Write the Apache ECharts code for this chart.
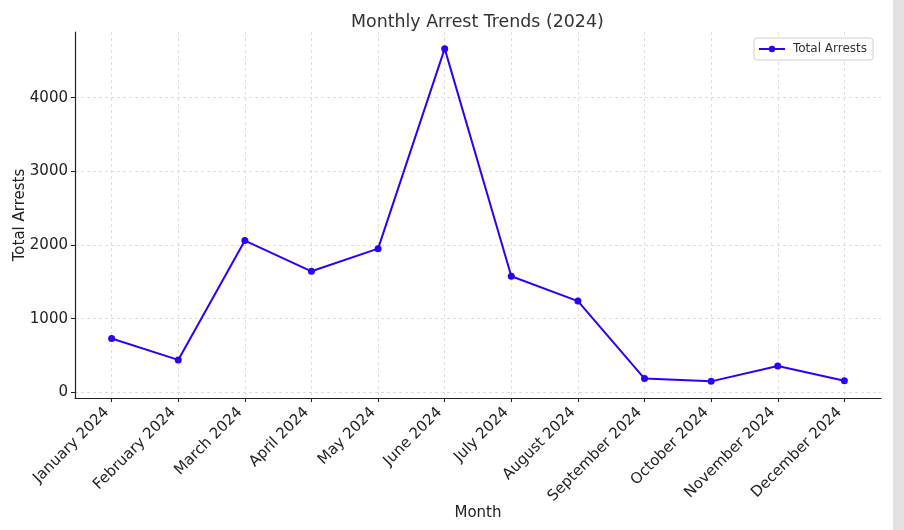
<!DOCTYPE html>
<html>
<head>
<meta charset="utf-8">
<script src="https://cdn.jsdelivr.net/npm/echarts@6/dist/echarts.min.js"></script>
<style>html,body{margin:0;padding:0;background:#fff;}#c{width:904px;height:530px;}</style>
</head>
<body>
<div id="c"></div>
<script>
const months = ["January 2024","February 2024","March 2024","April 2024","May 2024","June 2024","July 2024","August 2024","September 2024","October 2024","November 2024","December 2024"];
const totalArrests = [730, 440, 2060, 1643, 1950, 4665, 1575, 1238, 187, 149, 357, 158];
const yTicks = [0, 1000, 2000, 3000, 4000];
const xTickIdx = months.map((m, i) => i);

const font = 'DejaVu Sans';
const chart = echarts.init(document.getElementById('c'), null, {renderer: 'canvas'});
chart.setOption({
  animation: false,
  backgroundColor: '#ffffff',
  textStyle: {fontFamily: font},
  title: {
    text: 'Monthly Arrest Trends (2024)',
    left: 346, top: 9,
    textStyle: {fontFamily: font, fontSize: 17.4, fontWeight: 'normal', color: '#333'}
  },
  legend: {
    right: 31, top: 38,
    padding: [5, 6, 5, 4],
    itemWidth: 26, itemHeight: 8, itemGap: 6,
    borderColor: '#d0d0d0', borderWidth: 1, borderRadius: 3,
    backgroundColor: '#fff',
    textStyle: {fontFamily: font, fontSize: 12, color: '#333', padding: [0, 0, 0, 3]},
    data: ['Total Arrests']
  },
  grid: {left: 75, right: 23, top: 32, bottom: 132, containLabel: false, outerBoundsMode: 'none'},
  xAxis: {
    type: 'value', min: -0.55, max: 11.55,
    name: 'Month', nameLocation: 'middle', nameGap: 108, nameMoveOverlap: false,
    nameTextStyle: {fontFamily: font, fontSize: 15, color: '#222'},
    axisLine: {show: true, onZero: false, lineStyle: {color: '#222', width: 1.2}},
    axisTick: {show: true, length: 4, customValues: xTickIdx, lineStyle: {color: '#222'}},
    axisLabel: {customValues: xTickIdx, rotate: 45, margin: 7, padding: [0, 7, 0, 0],
      fontFamily: font, fontSize: 15, color: '#222',
      formatter: v => months[Math.round(v)] || ''},
    splitLine: {show: true, lineStyle: {color: '#d6d6d6', type: [3, 3], width: 0.8}}
  },
  yAxis: {
    type: 'value', min: -77, max: 4891,
    name: 'Total Arrests', nameLocation: 'middle', nameGap: 47, nameMoveOverlap: false,
    nameTextStyle: {fontFamily: font, fontSize: 15, color: '#222'},
    axisLine: {show: true, onZero: false, lineStyle: {color: '#222', width: 1.2}},
    axisTick: {show: true, length: 4, customValues: yTicks, lineStyle: {color: '#222'}},
    axisLabel: {customValues: yTicks, margin: 7, fontFamily: font, fontSize: 15, color: '#222',
      formatter: v => String(v)},
    splitLine: {show: true, lineStyle: {color: '#d6d6d6', type: [3, 3], width: 0.8}}
  },
  series: [{
    name: 'Total Arrests',
    type: 'line',
    data: totalArrests.map((v, i) => [i, v]),
    color: '#2a00ff',
    lineStyle: {width: 2, color: '#2a00ff'},
    symbol: 'circle', symbolSize: 7,
    itemStyle: {color: '#2a00ff'}
  }],
  graphic: [{
    type: 'rect', shape: {x: 893, y: 0, width: 11, height: 530},
    style: {fill: '#e2e2e2'}, silent: true
  }]
});
</script>
</body>
</html>
